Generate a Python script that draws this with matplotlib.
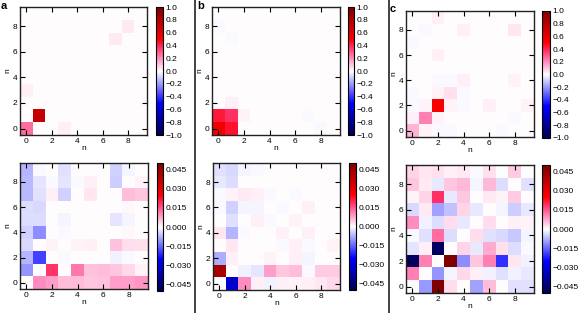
import matplotlib
matplotlib.use("Agg")
import matplotlib.pyplot as plt
import numpy as np
from matplotlib.colors import LinearSegmentedColormap

plt.rcParams["font.family"] = ["Liberation Sans", "DejaVu Sans"]

# rows are n (y) from 0 to 9, columns are n (x) from 0 to 9
top_a = [
    [0.26, 0.006, 0.006, 0.03, 0.006, 0.006, 0.006, 0.006, 0.006, 0.006],
    [0.006, 0.72, 0.006, 0.006, 0.006, 0.006, 0.006, 0.006, 0.006, 0.006],
    [0.006, 0.006, 0.006, 0.006, 0.006, 0.006, 0.006, 0.006, 0.006, 0.006],
    [0.03, 0.006, 0.006, 0.006, 0.006, 0.006, 0.006, 0.006, 0.006, 0.006],
    [0.006, 0.006, 0.006, 0.006, 0.006, 0.006, 0.006, 0.006, 0.006, 0.006],
    [0.006, 0.006, 0.006, 0.006, 0.006, 0.006, 0.006, 0.006, 0.006, 0.006],
    [0.006, 0.006, 0.006, 0.006, 0.006, 0.006, 0.006, 0.006, 0.006, 0.006],
    [0.006, 0.006, 0.006, 0.006, 0.006, 0.006, 0.006, 0.035, 0.006, 0.006],
    [0.006, 0.006, 0.006, 0.006, 0.006, 0.006, 0.006, 0.006, 0.035, 0.006],
    [0.006, 0.006, 0.006, 0.006, 0.006, 0.006, 0.006, 0.006, 0.006, 0.006],
]
top_b = [
    [0.55, 0.45, 0.005, 0.005, 0.005, 0.005, 0.005, 0.005, -0.01, 0.005],
    [0.43, 0.38, 0.02, 0.005, 0.005, 0.005, 0.005, -0.01, 0.005, 0.005],
    [0.005, 0.03, 0.005, 0.005, 0.005, 0.005, 0.005, 0.005, 0.005, 0.005],
    [0.005, 0.005, 0.005, 0.005, 0.005, 0.005, 0.005, 0.005, 0.005, 0.005],
    [0.005, 0.005, 0.005, 0.005, 0.005, 0.005, 0.005, 0.005, 0.005, 0.005],
    [0.005, 0.005, 0.005, 0.005, 0.005, 0.005, 0.005, 0.005, 0.005, 0.005],
    [0.005, 0.005, 0.005, 0.005, 0.005, 0.005, 0.005, 0.005, 0.005, 0.005],
    [0.005, -0.01, 0.005, 0.005, 0.005, 0.005, 0.005, 0.005, 0.005, 0.005],
    [-0.01, 0.005, 0.005, 0.005, 0.005, 0.005, 0.005, 0.005, 0.005, 0.005],
    [0.005, 0.005, 0.005, 0.005, 0.005, 0.005, 0.005, 0.005, 0.005, 0.005],
]
top_c = [
    [0.13, 0.02, -0.015, -0.015, 0.005, 0.005, 0.005, -0.01, 0.005, 0.005],
    [0.03, 0.22, 0.02, 0.005, 0.005, 0.005, 0.005, 0.005, -0.01, 0.005],
    [-0.01, 0.02, 0.52, 0.02, -0.01, 0.005, 0.03, 0.005, 0.005, 0.02],
    [-0.015, 0.005, 0.02, 0.05, -0.01, 0.005, 0.005, 0.005, 0.005, 0.005],
    [0.005, 0.005, -0.01, -0.01, 0.03, 0.005, 0.005, 0.005, 0.02, 0.005],
    [0.005, 0.005, 0.005, 0.005, 0.005, 0.005, 0.005, 0.005, 0.005, 0.005],
    [0.005, 0.005, 0.03, 0.005, 0.005, 0.005, 0.005, 0.005, 0.005, 0.005],
    [-0.01, 0.005, 0.005, 0.005, 0.005, 0.005, 0.005, 0.005, 0.005, 0.005],
    [0.005, -0.01, 0.005, 0.005, 0.03, 0.005, 0.005, 0.005, 0.04, 0.005],
    [0.005, 0.005, 0.03, 0.005, 0.005, 0.005, 0.005, 0.005, 0.005, 0.005],
]

# residuals, in units of 1e-3
BOT_SCALE = 1e-3
bot_a = [
    [0.0, 10.0, 8.3, 5.7, 5.7, 4.8, 5.2, 8.3, 8.3, 9.2],
    [-10.3, 0.0, 18.4, 0.0, 12.0, 5.2, 5.7, 4.8, 3.5, 0.9],
    [-7.4, -18.7, 0.0, -0.7, 0.0, 0.0, 0.0, -1.5, -0.5, 0.0],
    [-3.9, 0.0, 0.9, 0.0, 0.9, 1.3, 0.0, 5.2, 3.0, 2.6],
    [-4.4, -11.3, 0.0, -0.7, 0.0, 0.0, 0.0, 0.0, 0.5, 0.0],
    [-3.4, -3.4, 0.0, -1.0, 0.0, 0.0, 0.0, -2.5, -1.0, 0.0],
    [-3.4, -3.9, 0.0, 0.0, 0.0, 0.0, 0.0, 0.0, 0.5, 0.0],
    [-6.9, -3.0, 1.3, -4.4, 0.0, 2.2, 0.0, 0.0, 5.7, 4.8],
    [-6.9, -2.5, -0.7, -2.5, -0.7, 1.3, 0.0, -4.9, 0.0, 0.9],
    [-7.4, -0.5, 0.0, -3.0, 0.0, 0.0, 0.0, -4.4, -1.0, 0.0],
]
bot_b = [
    [0.0, -32.0, 10.0, 1.3, -1.5, 1.3, 0.9, 1.3, 2.2, 3.5],
    [42.0, 0.0, -1.5, -2.5, 8.3, 4.8, 5.7, -0.5, 4.6, 4.3],
    [-8.2, 1.3, 0.0, 0.0, 0.9, 0.0, 1.3, -1.0, 0.0, 0.0],
    [0.0, 2.2, 0.0, 0.0, 0.0, -0.5, 1.3, -0.5, 0.0, 0.9],
    [2.2, -7.2, -0.7, 0.0, 0.0, 1.3, 0.0, 1.3, 0.0, 0.0],
    [0.0, -3.0, 0.0, 1.3, -0.5, 0.0, 0.9, 0.0, 0.0, 0.0],
    [-0.5, -4.4, -1.0, -1.0, 0.0, -0.5, 0.0, 1.3, 0.0, 0.0],
    [-0.7, 0.9, 1.7, 1.3, -0.5, 0.0, -0.7, 0.0, 0.0, 0.0],
    [-2.0, -3.4, 0.0, 0.0, 0.0, 0.0, 0.0, 0.0, 0.0, 0.0],
    [-3.0, -3.9, -1.0, -0.7, 0.0, 0.0, 0.0, 0.0, 0.0, 0.0],
]
bot_c = [
    [0.0, -10.0, 52.0, 3.0, 0.0, -9.3, 5.7, 0.0, -2.9, -2.9],
    [11.0, 0.0, -10.3, -1.0, 3.5, 1.3, -1.5, -2.9, -1.5, -2.0],
    [-47.0, 11.0, 0.0, 52.0, -11.3, 4.8, 11.0, -20.0, 2.2, -1.5],
    [-2.5, 1.3, -47.0, 0.0, 3.9, -2.0, 7.4, 2.6, -3.4, -0.5],
    [-0.5, -2.9, 13.0, -3.4, 0.0, 3.0, -2.9, -3.9, -5.4, -1.0],
    [10.0, -1.5, -3.4, 3.0, -2.0, 0.0, 3.0, 0.0, 1.3, 0.9],
    [-3.9, 1.7, -9.3, -5.9, 3.9, -2.0, 0.0, -1.0, -4.9, -2.0],
    [0.9, 3.9, 19.0, -2.0, 4.8, 0.0, 1.7, 0.9, 4.4, 0.0],
    [4.8, 1.7, -2.0, 4.8, 6.1, -1.0, 6.1, -3.4, 0.0, -2.9],
    [3.9, 2.2, 2.6, 1.3, 1.7, -0.5, 2.6, 0.0, 4.6, 0.0],
]

top_ticks = [-1.0, -0.8, -0.6, -0.4, -0.2, 0.0, 0.2, 0.4, 0.6, 0.8, 1.0]
bot_ticks = [-0.045, -0.030, -0.015, 0.0, 0.015, 0.030, 0.045]
axis_ticks = [0, 2, 4, 6, 8]

cmap = LinearSegmentedColormap.from_list("seismic_pink", [
    (0.0, (0.0, 0.0, 0.3)),
    (0.25, (0.0, 0.0, 1.0)),
    (0.5, (1.0, 1.0, 1.0)),
    (0.6, (1.0, 0.55, 0.75)),
    (0.7, (1.0, 0.15, 0.35)),
    (0.75, (1.0, 0.0, 0.0)),
    (1.0, (0.5, 0.0, 0.0)),
])

W, H = 582, 313
fig = plt.figure(figsize=(W / 100, H / 100), dpi=100)


def px_axes(x0, y0, x1, y1):
    return fig.add_axes([x0 / W, 1 - y1 / H, (x1 - x0) / W, (y1 - y0) / H])


def fmt(v, nd):
    s = f"{abs(v):.{nd}f}"
    return ("\u2212" + s) if v < 0 else s


def panel(data, box, cbox, vmax, ticks, nd):
    ax = px_axes(*box)
    im = ax.imshow(data, cmap=cmap, vmin=-vmax, vmax=vmax,
                   origin="lower", interpolation="nearest", aspect="auto")
    ax.set_xticks(axis_ticks)
    ax.set_yticks(axis_ticks)
    ax.tick_params(direction="in", length=3.5, width=0.8, labelsize=6,
                   top=True, right=True, pad=2)
    ax.set_xlabel("n", fontsize=6, labelpad=0)
    ax.set_ylabel("n", fontsize=6, labelpad=1)
    for sp in ax.spines.values():
        sp.set_linewidth(1.0)
        sp.set_color("#222")
    cax = px_axes(*cbox)
    cb = fig.colorbar(im, cax=cax)
    cb.set_ticks(ticks)
    cb.set_ticklabels([fmt(t, nd) for t in ticks])
    cb.ax.tick_params(labelsize=6, length=0, pad=2)
    cb.outline.set_linewidth(0.8)
    return ax


panel(np.array(top_a), (20, 7, 147, 135), (156, 7, 163, 135), 1.0, top_ticks, 1)
panel(np.array(bot_a) * BOT_SCALE, (20, 163, 148, 289), (157, 163, 163, 291),
      0.05, bot_ticks, 3)
panel(np.array(top_b), (212, 7, 340, 135), (348, 7, 354, 135), 1.0, top_ticks, 1)
panel(np.array(bot_b) * BOT_SCALE, (213, 163, 340, 290), (349, 163, 356, 290),
      0.05, bot_ticks, 3)
panel(np.array(top_c), (406, 11, 534, 137), (542, 11, 550, 138), 1.0, top_ticks, 1)
panel(np.array(bot_c) * BOT_SCALE, (406, 165, 534, 293), (542, 165, 550, 293),
      0.05, bot_ticks, 3)

for xs in (195.5, 388.5):
    fig.add_artist(plt.Line2D([xs / W, xs / W], [0, 1], color="#222",
                              lw=1.2, transform=fig.transFigure))

for lab, x, y in (("a", 1, 1), ("b", 197, 1), ("c", 390, 4)):
    fig.text(x / W, 1 - y / H, lab, fontsize=8, fontweight="bold",
             ha="left", va="top")

fig.savefig("out.png", dpi=100)
